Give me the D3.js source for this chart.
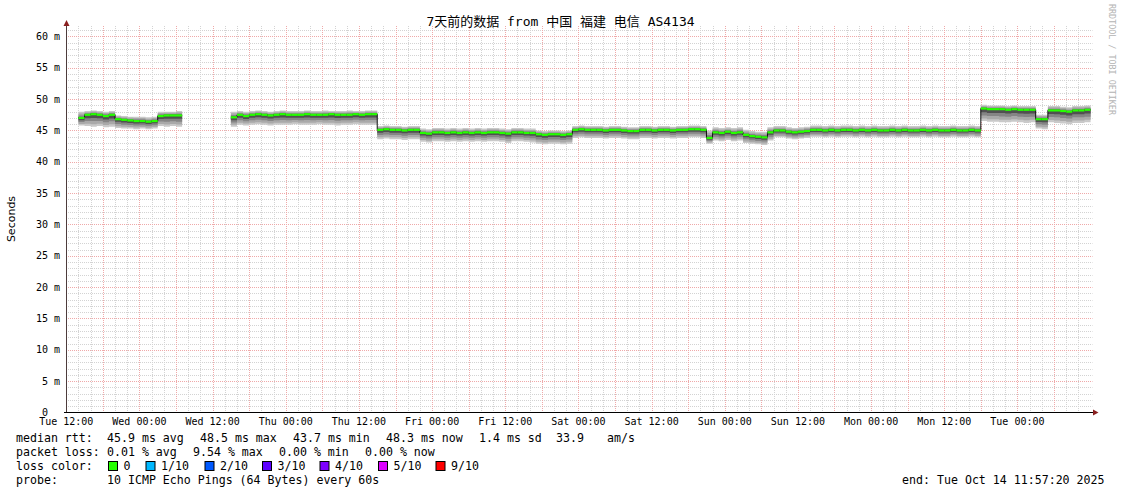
<!DOCTYPE html>
<html><head><meta charset="utf-8">
<script src="https://cdn.jsdelivr.net/npm/d3@7"></script>
<style>html,body{margin:0;padding:0;background:#fff;} svg{display:block;}</style>
</head><body><svg id="c" width="1121" height="494"></svg>
<script>
// ---------------- data ----------------
const chartTitle = "7天前的数据 from 中国 福建 电信 AS4134";
const yAxisTitle = "Seconds";
const watermark = "RRDTOOL / TOBI OETIKER";
const startTime = new Date(2025, 9, 7, 11, 57, 20);
const endTime = new Date(2025, 9, 14, 11, 57, 20);
const firstSample = new Date(2025, 9, 7, 12, 0, 0); // hourly samples from here
const yTicks = [0, 5, 10, 15, 20, 25, 30, 35, 40, 45, 50, 55, 60];
const yTickLabels = ["0", "5 m", "10 m", "15 m", "20 m", "25 m", "30 m", "35 m", "40 m", "45 m", "50 m", "55 m", "60 m"];

// hourly median RTT (ms), one row per 12 hours
const median = [
  null,null,47.0,47.5,47.6,47.5,47.3,47.5,46.8,46.7,46.6,46.5,
  46.5,46.4,46.5,47.3,47.4,47.4,47.4,null,null,null,null,null,
  null,null,null,47.1,47.5,47.3,47.5,47.6,47.5,47.4,47.5,47.6,
  47.5,47.5,47.5,47.6,47.5,47.5,47.5,47.6,47.5,47.5,47.5,47.6,
  47.5,47.6,47.6,45.1,45.2,45.1,45.1,45.0,45.1,45.1,44.6,44.5,
  44.7,44.7,44.6,44.7,44.6,44.7,44.6,44.7,44.6,44.7,44.7,44.6,
  44.5,44.7,44.7,44.6,44.6,44.4,44.3,44.4,44.4,44.3,44.4,45.1,
  45.2,45.1,45.1,45.1,45.0,45.1,45.1,45.0,44.9,44.9,45.1,45.1,
  45.0,45.1,45.1,45.0,45.1,45.1,45.2,45.2,45.1,43.8,44.7,44.6,
  44.8,44.6,44.7,44.3,44.1,44.0,43.9,44.7,45.0,45.0,44.8,44.7,
  44.8,44.9,45.1,45.1,45.0,45.1,45.0,45.1,45.1,45.0,45.1,45.0,
  45.1,45.0,45.0,45.1,45.0,45.1,45.0,45.0,45.1,45.0,45.1,45.0,
  45.0,45.1,45.0,45.0,45.1,45.0,48.5,48.4,48.4,48.4,48.3,48.4,
  48.3,48.3,48.3,46.8,46.8,48.2,48.2,48.1,48.0,48.2,48.2,48.3
];
// hourly top of the smoke (slowest pings)
const smokeHigh = [
  null,null,48.0,48.1,48.2,48.1,48.0,48.1,47.4,47.3,47.2,47.2,
  47.2,47.1,47.2,48.0,48.0,48.0,48.1,null,null,null,null,null,
  null,null,null,48.0,48.1,48.0,48.1,48.2,48.1,48.0,48.1,48.2,
  48.1,48.1,48.1,48.2,48.1,48.1,48.2,48.1,48.1,48.1,48.2,48.1,
  48.1,48.2,48.2,45.7,45.8,45.7,45.7,45.6,45.7,45.7,45.3,45.2,
  45.4,45.4,45.3,45.4,45.3,45.4,45.3,45.4,45.3,45.4,45.4,45.3,
  45.2,45.4,45.4,45.3,45.3,45.0,44.9,45.0,45.0,44.9,45.0,45.7,
  45.8,45.7,45.7,45.7,45.6,45.7,45.7,45.6,45.5,45.5,45.7,45.7,
  45.6,45.7,45.7,45.6,45.7,45.7,45.8,45.8,45.7,45.0,45.5,45.4,
  45.5,45.4,45.5,45.1,44.9,44.8,44.8,45.5,45.7,45.7,45.5,45.4,
  45.5,45.6,45.8,45.8,45.7,45.8,45.7,45.8,45.8,45.7,45.8,45.7,
  45.8,45.7,45.7,45.8,45.7,45.8,45.7,45.7,45.8,45.7,45.8,45.7,
  45.7,45.8,45.7,45.7,45.8,45.7,49.1,49.0,49.0,49.0,48.9,49.0,
  48.9,48.9,48.9,47.5,47.5,48.9,48.9,48.8,48.7,48.9,48.9,49.0
];
// hourly bottom of the smoke (fastest pings)
const smokeLow = [
  null,null,45.8,45.7,45.6,45.7,45.5,45.6,45.4,45.3,45.3,45.2,
  45.3,45.2,45.3,45.7,45.6,45.7,45.6,null,null,null,null,null,
  null,null,null,45.6,45.9,45.8,45.9,46.0,45.9,45.8,45.9,45.9,
  45.9,46.0,45.9,45.9,45.9,46.0,45.9,45.9,45.8,45.9,45.9,46.0,
  45.9,45.9,45.9,43.6,43.7,43.6,43.6,43.5,43.6,43.6,43.2,43.1,
  43.3,43.3,43.2,43.3,43.2,43.3,43.2,43.3,43.2,43.3,43.3,43.2,
  43.0,43.3,43.3,43.2,43.1,42.9,42.8,42.9,42.9,42.8,42.9,43.8,
  43.9,43.8,43.8,43.8,43.7,43.8,43.8,43.7,43.6,43.6,43.8,43.8,
  43.7,43.8,43.8,43.7,43.8,43.8,43.9,43.9,43.8,42.9,43.4,43.3,
  43.5,43.3,43.4,43.0,42.9,42.8,42.7,43.4,43.9,43.9,43.7,43.6,
  43.7,43.8,44.0,44.0,43.9,44.0,43.9,44.0,44.0,43.9,44.0,43.9,
  44.0,43.9,43.9,44.0,43.9,44.0,43.9,43.9,44.0,43.9,44.0,43.9,
  43.9,44.0,43.9,43.9,44.0,43.9,46.5,46.4,46.4,46.3,46.3,46.4,
  46.3,46.2,46.3,45.3,45.2,46.3,46.2,46.1,46.0,46.2,46.2,46.3
];

const lossLevels = ["0", "1/10", "2/10", "3/10", "4/10", "5/10", "9/10"];
const lossColors = ["#26ff00", "#00b8ff", "#0059ff", "#5e00ff", "#7e00ff", "#dd00ff", "#ff0000"];
const rttStats = ["45.9 ms avg", "48.5 ms max", "43.7 ms min", "48.3 ms now", "1.4 ms sd", "33.9", "am/s"];
const lossStats = ["0.01 % avg", "9.54 % max", "0.00 % min", "0.00 % now"];
const probeText = "10 ICMP Echo Pings (64 Bytes) every 60s";
const endText = "end: Tue Oct 14 11:57:20 2025";

// ---------------- layout ----------------
const svg = d3.select("#c");
const mono = "'DejaVu Sans Mono', 'Noto Sans CJK SC', monospace";
const plotL = 66, plotR = 1090.3, plotT = 26, plotB = 412.5, gridR = 1092.5;

const x = d3.scaleTime().domain([startTime, endTime]).range([plotL, plotR]);
const y = d3.scaleLinear().domain([0, 61.67]).range([plotB, plotT]);
const hourDate = h => new Date(firstSample.getTime() + h * 3600e3);
const crisp = v => Math.round(v) + 0.5;

svg.append("rect").attr("width", 1121).attr("height", 494).attr("fill", "#fff");

// ---- grid ----
const grid = svg.append("g");
const minorCol = "#d3d3d3", majorCol = "#efa9a9";
const minorY = d3.range(1, 62).filter(v => v % 5 !== 0 && y(v) >= plotT);
grid.selectAll(".hm").data(minorY).join("line")
  .attr("x1", plotL).attr("x2", gridR)
  .attr("y1", d => crisp(y(d))).attr("y2", d => crisp(y(d)))
  .attr("stroke", minorCol).attr("stroke-dasharray", "1,1");
const minorX = d3.timeHour.every(2).range(startTime, endTime).filter(d => d.getHours() % 6 !== 0);
grid.selectAll(".vm").data(minorX).join("line")
  .attr("x1", d => crisp(x(d))).attr("x2", d => crisp(x(d)))
  .attr("y1", plotT).attr("y2", plotB)
  .attr("stroke", minorCol).attr("stroke-dasharray", "1,1");
grid.selectAll(".hM").data(yTicks.filter(v => v > 0)).join("line")
  .attr("x1", plotL).attr("x2", gridR)
  .attr("y1", d => crisp(y(d))).attr("y2", d => crisp(y(d)))
  .attr("stroke", majorCol).attr("stroke-dasharray", "1,1");
const majorX = d3.timeHour.every(6).range(startTime, endTime);
grid.selectAll(".vM").data(majorX).join("line")
  .attr("x1", d => crisp(x(d))).attr("x2", d => crisp(x(d)))
  .attr("y1", plotT).attr("y2", plotB)
  .attr("stroke", majorCol).attr("stroke-dasharray", "1,1");

// ---- smoke + median ----
const pts = [];
median.forEach((m, i) => {
  if (m == null) { pts.push({ h: i, m: null }); return; }
  const rec = { m, lo: smokeLow[i], hi: smokeHigh[i] };
  pts.push({ h: i, ...rec });
  pts.push({ h: i + 1, ...rec });
});
const def = d => d.m != null;
const band = (fLo, fHi, color) => {
  const a = d3.area().defined(def)
    .x(d => x(hourDate(d.h)))
    .y0(d => y(d.m - fLo * (d.m - d.lo)))
    .y1(d => y(d.m + fHi * (d.hi - d.m)));
  svg.append("path").attr("d", a(pts)).attr("fill", color);
};
band(1.0, 1.0, "#c9c9c9");
band(0.8, 0.7, "#a9a9a9");
band(0.55, 0.4, "#858585");
band(0.3, 0.15, "#505050");

const stepLine = d3.line().defined(def).x(d => x(hourDate(d.h))).y(d => y(d.m));
svg.append("path").attr("d", stepLine(pts)).attr("fill", "none")
  .attr("stroke", "#111").attr("stroke-width", 1);

const segs = median.map((m, i) => ({ i, m })).filter(d => d.m != null);
svg.append("g").selectAll("line").data(segs).join("line")
  .attr("x1", d => x(hourDate(d.i))).attr("x2", d => x(hourDate(d.i + 1)))
  .attr("y1", d => y(d.m)).attr("y2", d => y(d.m))
  .attr("stroke", lossColors[0]).attr("stroke-width", 2.2);

// ---- axes ----
svg.append("line").attr("x1", 66.5).attr("x2", 66.5).attr("y1", 25).attr("y2", plotB)
  .attr("stroke", "#4d3c3c").attr("stroke-width", 1);
svg.append("path").attr("d", "M63.5,26 L69.5,26 L66.5,20 Z").attr("fill", "#8a2020");
svg.append("line").attr("x1", 64).attr("x2", 1093).attr("y1", plotB).attr("y2", plotB)
  .attr("stroke", "#000").attr("stroke-width", 1.2);
svg.append("path").attr("d", "M1093,409.5 L1093,415.5 L1098.5,412.5 Z").attr("fill", "#8a2020");

// y tick labels (unit-less "0" sits in the number column)
svg.append("g").selectAll("text").data(yTicks).join("text")
  .attr("x", (d, i) => yTickLabels[i].endsWith(" m") ? 60 : 48).attr("y", d => y(d) + 3.5)
  .attr("text-anchor", "end").attr("font-family", mono).attr("font-size", 10)
  .attr("fill", "#000").text((d, i) => yTickLabels[i]);

// x tick labels
const xTicks = d3.timeHour.every(12).range(startTime, endTime);
const fmt = d3.timeFormat("%a %H:%M");
svg.append("g").selectAll("text").data(xTicks).join("text")
  .attr("x", d => x(d)).attr("y", 425)
  .attr("text-anchor", "middle").attr("font-family", mono).attr("font-size", 10)
  .attr("fill", "#000").text(d => fmt(d));

// title
svg.append("text").attr("x", 560.5).attr("y", 25.5).attr("text-anchor", "middle")
  .attr("font-family", mono).attr("font-size", 13).attr("fill", "#000").text(chartTitle);

// y axis title
svg.append("text").attr("transform", "translate(15,219) rotate(-90)")
  .attr("text-anchor", "middle").attr("font-family", "'DejaVu Sans', sans-serif")
  .attr("font-size", 11).attr("fill", "#000").text(yAxisTitle);

// watermark
svg.append("text").attr("transform", "translate(1108.5,4) rotate(90)")
  .attr("font-family", mono).attr("font-size", 8.4).attr("fill", "#b4b4b4").text(watermark);

// ---- legend ----
const lg = svg.append("g").attr("font-family", mono).attr("font-size", 11.6).attr("fill", "#000")
  .style("white-space", "pre");
const rowY = [442, 456, 470, 484];
const putText = (tx, xx, yy) => lg.append("text").attr("x", xx).attr("y", yy).text(tx);

putText("median rtt:", 16, rowY[0]);
const rttX = [107, 200, 293, 386, 479, 556, 607];
rttStats.forEach((s, i) => putText(s, rttX[i], rowY[0]));

putText("packet loss:", 16, rowY[1]);
const lossX = [107, 193, 279, 365];
lossStats.forEach((s, i) => putText(s, lossX[i], rowY[1]));

putText("loss color:", 16, rowY[2]);
const boxX = [108, 145.5, 204.5, 262, 319.5, 378, 435.5];
lossLevels.forEach((s, i) => {
  lg.append("rect").attr("x", boxX[i] + 0.5).attr("y", rowY[2] - 8.5).attr("width", 9).attr("height", 9)
    .attr("fill", lossColors[i]).attr("stroke", "#000").attr("stroke-width", 1);
  putText(s, boxX[i] + 15.5, rowY[2]);
});

putText("probe:", 16, rowY[3]);
putText(probeText, 107, rowY[3]);
lg.append("text").attr("x", 1104.5).attr("y", rowY[3]).attr("text-anchor", "end").text(endText);
</script>
</body></html>
